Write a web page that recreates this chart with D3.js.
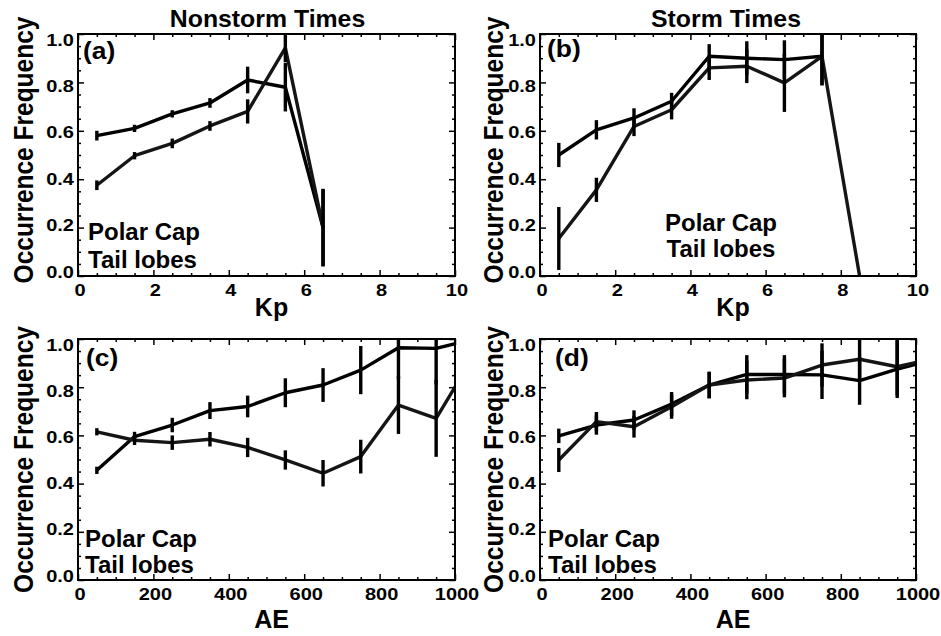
<!DOCTYPE html>
<html>
<head>
<meta charset="utf-8">
<script src="https://cdn.jsdelivr.net/npm/d3@7"></script>
<style>
  html, body { margin: 0; padding: 0; background: #fff; }
  svg { display: block; }
  text { font-family: "Liberation Sans", Arial, Helvetica, sans-serif; font-weight: bold; fill: #000; }
</style>
</head>
<body>
<script>
// ---------------- DATA ----------------
const kpValues = [0.5, 1.5, 2.5, 3.5, 4.5, 5.5, 6.5, 7.5, 8.5];
const aeValues = [50, 150, 250, 350, 450, 550, 650, 750, 850, 950, 1050];

// (a) Nonstorm times vs Kp
const nonstormKpPolarCap      = [0.58, 0.61, 0.67, 0.715, 0.81, 0.78, 0.20];
const nonstormKpPolarCapErr   = [0.02, 0.015, 0.015, 0.02, 0.055, 0.10, 0.16];
const nonstormKpTailLobes     = [0.375, 0.497, 0.548, 0.62, 0.68, 0.943, 0.20];
const nonstormKpTailLobesErr  = [0.02, 0.015, 0.02, 0.02, 0.05, 0.06, 0.16];

// (b) Storm times vs Kp
const stormKpPolarCap      = [0.50, 0.604, 0.653, 0.722, 0.908, 0.90, 0.894, 0.908];
const stormKpPolarCapErr   = [0.05, 0.04, 0.04, 0.035, 0.05, 0.07, 0.08, 0.12];
const stormKpTailLobes     = [0.155, 0.356, 0.618, 0.687, 0.86, 0.867, 0.798, 0.908, 0.0];
const stormKpTailLobesErr  = [0.13, 0.05, 0.04, 0.04, 0.05, 0.07, 0.12, 0.12, 0];

// (c) Nonstorm times vs AE
const nonstormAePolarCap     = [0.455, 0.595, 0.643, 0.703, 0.72, 0.777, 0.809, 0.871, 0.964, 0.961, 1.0];
const nonstormAePolarCapErr  = [0.015, 0.02, 0.03, 0.035, 0.045, 0.06, 0.07, 0.10, 0.13, 0.15, 0];
const nonstormAeTailLobes    = [0.615, 0.58, 0.57, 0.584, 0.55, 0.498, 0.443, 0.512, 0.726, 0.671, 0.93];
const nonstormAeTailLobesErr = [0.015, 0.02, 0.03, 0.03, 0.04, 0.04, 0.055, 0.07, 0.12, 0.16, 0];

// (d) Storm times vs AE
const stormAePolarCap     = [0.598, 0.643, 0.664, 0.73, 0.809, 0.853, 0.853, 0.851, 0.827, 0.875, 0.915];
const stormAePolarCapErr  = [0.03, 0.04, 0.04, 0.05, 0.055, 0.08, 0.08, 0.10, 0.10, 0.12, 0];
const stormAeTailLobes    = [0.498, 0.657, 0.636, 0.719, 0.809, 0.83, 0.838, 0.892, 0.916, 0.885, 0.92];
const stormAeTailLobesErr = [0.05, 0.04, 0.045, 0.05, 0.055, 0.08, 0.08, 0.09, 0.09, 0.12, 0];

// ticks / labels
const kpTicks = [0, 2, 4, 6, 8, 10];
const aeTicks = [0, 200, 400, 600, 800, 1000];
const yTicks  = [0, 0.2, 0.4, 0.6, 0.8, 1.0];
const columnTitles = ["Nonstorm Times", "Storm Times"];
const panelLetters = ["(a)", "(b)", "(c)", "(d)"];
const legendLines = ["Polar Cap", "Tail lobes"];
const yTitle = "Occurrence Frequency";

// ---------------- LAYOUT ----------------
const W = 941, H = 636;
const svg = d3.select("body").append("svg").attr("width", W).attr("height", H);
svg.append("rect").attr("width", W).attr("height", H).attr("fill", "#fff");

function txt(g, str, x, y, size, sx, anchor, rot) {
  return g.append("text")
    .attr("transform", `translate(${x},${y}) scale(${sx},1)` + (rot ? " rotate(-90)" : ""))
    .attr("text-anchor", anchor || "start")
    .style("font-size", size + "px")
    .text(str);
}

const panels = [
  { id: 0, box: [78, 455, 34, 276], xd: [0, 10], xt: kpTicks, xminor: 0.5, xTitle: "Kp",
    series: [[nonstormKpPolarCap, nonstormKpPolarCapErr], [nonstormKpTailLobes, nonstormKpTailLobesErr]], xs: kpValues,
    legend: { x: 88, y: 240, anchor: "start", dy: 28 }, letter: [83, 58.5], yTitleX: 33 },
  { id: 1, box: [540, 916, 34, 276], xd: [0, 10], xt: kpTicks, xminor: 0.5, xTitle: "Kp",
    series: [[stormKpPolarCap, stormKpPolarCapErr], [stormKpTailLobes, stormKpTailLobesErr]], xs: kpValues,
    legend: { x: 721, y: 231, anchor: "middle", dy: 26 }, letter: [547, 57], yTitleX: 503 },
  { id: 2, box: [78, 455, 339, 580], xd: [0, 1000], xt: aeTicks, xminor: 50, xTitle: "AE",
    series: [[nonstormAePolarCap, nonstormAePolarCapErr], [nonstormAeTailLobes, nonstormAeTailLobesErr]], xs: aeValues,
    legend: { x: 85, y: 546.5, anchor: "start", dy: 26.5 }, letter: [86, 366], yTitleX: 33 },
  { id: 3, box: [540, 916, 339, 580], xd: [0, 1000], xt: aeTicks, xminor: 50, xTitle: "AE",
    series: [[stormAePolarCap, stormAePolarCapErr], [stormAeTailLobes, stormAeTailLobesErr]], xs: aeValues,
    legend: { x: 548, y: 546.5, anchor: "start", dy: 26.5 }, letter: [555, 366], yTitleX: 503 }
];

// Column titles
txt(svg, columnTitles[0], 267.5, 26.5, 23, 1.08, "middle");
txt(svg, columnTitles[1], 726, 26.5, 23, 1.08, "middle");

panels.forEach(p => {
  const [x0, x1, y0, y1] = p.box;
  const g = svg.append("g");
  const x = d3.scaleLinear().domain(p.xd).range([x0, x1]);
  const y = d3.scaleLinear().domain([0, 1]).range([y1, y0]);
  const yLab = d3.scaleLinear().domain([0, 1]).range([y1 - 4.5, y0 + 5.5]);

  const clipId = "clip" + p.id;
  svg.append("clipPath").attr("id", clipId)
    .append("rect").attr("x", x0).attr("y", y0 - 1).attr("width", x1 - x0).attr("height", y1 - y0 + 1);

  const xMinor = d3.range(p.xd[0], p.xd[1] + 1e-9, p.xminor).filter(v => !p.xt.some(t => Math.abs(t - v) < 1e-9));
  const yMinor = d3.range(0, 1.0001, 0.05).filter(v => !yTicks.some(t => Math.abs(t - v) < 1e-9));

  const axes = g.append("g").attr("class", "axes");
  const mk = (axisFn, scale, vals, size, tr) => {
    const a = axes.append("g").attr("transform", tr)
      .call(axisFn(scale).tickValues(vals).tickSize(size).tickSizeOuter(0).tickFormat(""));
    a.select(".domain").remove();
    a.selectAll("line").attr("stroke", "#000").attr("stroke-width", 1.5);
  };
  mk(d3.axisBottom, x, p.xt, -6, `translate(0,${y1})`);
  mk(d3.axisBottom, x, xMinor, -3, `translate(0,${y1})`);
  mk(d3.axisTop, x, p.xt, -6, `translate(0,${y0})`);
  mk(d3.axisTop, x, xMinor, -3, `translate(0,${y0})`);
  mk(d3.axisLeft, y, yTicks, -6, `translate(${x0},0)`);
  mk(d3.axisLeft, y, yMinor, -3, `translate(${x0},0)`);
  mk(d3.axisRight, y, yTicks, -6, `translate(${x1},0)`);
  mk(d3.axisRight, y, yMinor, -3, `translate(${x1},0)`);

  const dg = g.append("g").attr("clip-path", `url(#${clipId})`);
  p.series.forEach(([vals, errs], si) => {
    const pts = vals.map((v, i) => [p.xs[i], v, errs[i]]);
    dg.append("path")
      .datum(pts)
      .attr("fill", "none")
      .attr("stroke", si === 0 ? "#000" : "#151515")
      .attr("stroke-width", 3.4)
      .attr("stroke-linejoin", "round")
      .attr("d", d3.line().x(d => x(d[0])).y(d => y(d[1])));
    dg.selectAll(null).data(pts.filter(d => d[2] > 0)).enter().append("line")
      .attr("x1", d => x(d[0])).attr("x2", d => x(d[0]))
      .attr("y1", d => y(d[1] - d[2])).attr("y2", d => y(d[1] + d[2]))
      .attr("stroke", "#000").attr("stroke-width", 3.4);
  });

  g.append("rect").attr("x", x0).attr("y", y0).attr("width", x1 - x0).attr("height", y1 - y0)
    .attr("fill", "none").attr("stroke", "#000").attr("stroke-width", 2);

  p.xt.forEach(t => txt(g, String(t), x(t) + 2, y1 + 20, 16, 1.25, "middle"));
  yTicks.forEach(t => txt(g, d3.format(".1f")(t), x0 - 4, yLab(t) + 6, 16, 1.25, "end"));

  txt(g, p.xTitle, (x0 + x1) / 2 + 5, y1 + (p.id < 2 ? 40 : 48), 25, 1.0, "middle");
  txt(g, yTitle, p.yTitleX, (y0 + y1) / 2 + (p.id < 2 ? -5 : 0), 24.5, 1.15, "middle", true);

  txt(g, panelLetters[p.id], p.letter[0], p.letter[1], 24, 1.1, "start");

  legendLines.forEach((s, i) => txt(g, s, p.legend.x, p.legend.y + i * p.legend.dy, 24, 1.0, p.legend.anchor));
});
</script>
</body>
</html>
